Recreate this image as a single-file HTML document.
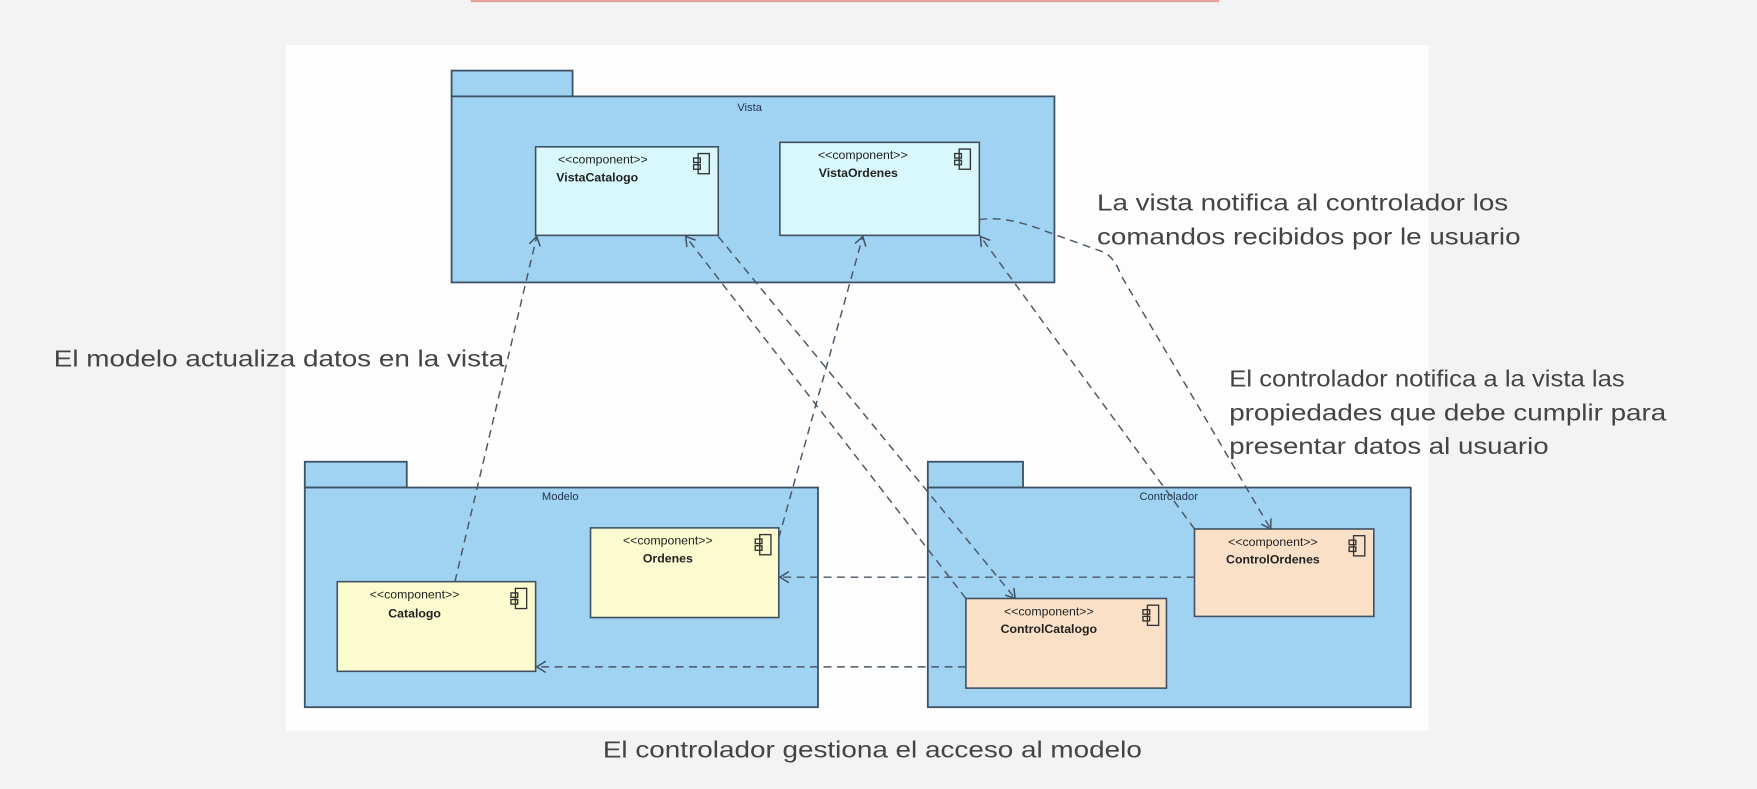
<!DOCTYPE html>
<html><head><meta charset="utf-8"><style>
html,body{margin:0;padding:0;background:#f3f3f3;}
svg{display:block;}
</style></head><body>
<svg width="1757" height="789" viewBox="0 0 1568 704" preserveAspectRatio="none" xmlns="http://www.w3.org/2000/svg" font-family="'Liberation Sans', sans-serif">
<defs>
<marker id="a" markerWidth="12" markerHeight="12" refX="10" refY="6" orient="auto" markerUnits="userSpaceOnUse">
<path d="M2,1 L10,6 L2,11" fill="none" stroke="#3d4f60" stroke-width="1.3"/>
</marker>
</defs>
<rect x="0" y="0" width="1568" height="704" fill="#f3f3f3"/>
<rect x="255" y="40" width="1020" height="612" fill="#fdfdfd"/>
<rect x="420" y="0" width="668" height="2" fill="#e8a0a0"/>

<g stroke="#3d5266" stroke-width="1.6" fill="#a0d2f2">
<rect x="403" y="63" width="108" height="23"/>
<rect x="403" y="86" width="538" height="166"/>
<rect x="272" y="412" width="91" height="23"/>
<rect x="272" y="435" width="458" height="196"/>
<rect x="828" y="412" width="85" height="23"/>
<rect x="828" y="435" width="431" height="196"/>
</g>
<g font-size="10" fill="#1e3348" text-anchor="middle">
<text x="669" y="99">Vista</text>
<text x="500" y="446">Modelo</text>
<text x="1043" y="446">Controlador</text>
</g>

<g stroke="#3d4f60" stroke-width="1.4">
<rect x="478" y="131" width="163" height="79" fill="#d8f8fc"/>
<rect x="696" y="127" width="178" height="83" fill="#d8f8fc"/>
<rect x="527" y="471" width="168" height="80" fill="#fbfbcf"/>
<rect x="301" y="519" width="177" height="80" fill="#fbfbcf"/>
<rect x="1066" y="472" width="160" height="78" fill="#fae0c6"/>
<rect x="862" y="534" width="179" height="80" fill="#fae0c6"/>
</g>
<g fill="none" stroke="#333" stroke-width="1.2">
<rect x="623" y="137" width="10" height="18"/><rect x="619" y="141" width="6" height="4"/><rect x="619" y="147" width="6" height="4"/>
<rect x="856" y="133" width="10" height="18"/><rect x="852" y="137" width="6" height="4"/><rect x="852" y="143" width="6" height="4"/>
<rect x="678" y="477" width="10" height="18"/><rect x="674" y="481" width="6" height="4"/><rect x="674" y="487" width="6" height="4"/>
<rect x="460" y="525" width="10" height="18"/><rect x="456" y="529" width="6" height="4"/><rect x="456" y="535" width="6" height="4"/>
<rect x="1208" y="478" width="10" height="18"/><rect x="1204" y="482" width="6" height="4"/><rect x="1204" y="488" width="6" height="4"/>
<rect x="1024" y="540" width="10" height="18"/><rect x="1020" y="544" width="6" height="4"/><rect x="1020" y="550" width="6" height="4"/>
</g>
<g font-size="11" fill="#222" text-anchor="middle">
<text x="538" y="146">&lt;&lt;component&gt;&gt;</text><text x="533" y="162" font-weight="bold">VistaCatalogo</text>
<text x="770" y="142">&lt;&lt;component&gt;&gt;</text><text x="766" y="158" font-weight="bold">VistaOrdenes</text>
<text x="596" y="486">&lt;&lt;component&gt;&gt;</text><text x="596" y="502" font-weight="bold">Ordenes</text>
<text x="370" y="534">&lt;&lt;component&gt;&gt;</text><text x="370" y="551" font-weight="bold">Catalogo</text>
<text x="1136" y="487">&lt;&lt;component&gt;&gt;</text><text x="1136" y="503" font-weight="bold">ControlOrdenes</text>
<text x="936" y="549">&lt;&lt;component&gt;&gt;</text><text x="936" y="565" font-weight="bold">ControlCatalogo</text>
</g>

<g fill="none" stroke="#4a5866" stroke-width="1.3" stroke-dasharray="7,5" marker-end="url(#a)">
<path d="M406,519 L479,211"/>
<path d="M695,480 L770,211"/>
<path d="M862,534 L612,211"/>
<path d="M641,211 L906,534"/>
<path d="M1066,472 L875,211"/>
<path d="M874,196 Q898,192 935,207 L985,225 Q995,230 1000,245 L1134,472"/>
<path d="M1066,515 L696,515"/>
<path d="M862,595 L479,595"/>
</g>

<g font-size="21" fill="#444" lengthAdjust="spacingAndGlyphs">
<text x="48" y="327" textLength="402" lengthAdjust="spacingAndGlyphs">El modelo actualiza datos en la vista</text>
<text x="979" y="188" textLength="367" lengthAdjust="spacingAndGlyphs">La vista notifica al controlador los</text>
<text x="979" y="218" textLength="378" lengthAdjust="spacingAndGlyphs">comandos recibidos por le usuario</text>
<text x="1097" y="345" textLength="353" lengthAdjust="spacingAndGlyphs">El controlador notifica a la vista las</text>
<text x="1097" y="375" textLength="390" lengthAdjust="spacingAndGlyphs">propiedades que debe cumplir para</text>
<text x="1097" y="405" textLength="285" lengthAdjust="spacingAndGlyphs">presentar datos al usuario</text>
<text x="538" y="676" textLength="481" lengthAdjust="spacingAndGlyphs">El controlador gestiona el acceso al modelo</text>
</g>
</svg>
</body></html>
